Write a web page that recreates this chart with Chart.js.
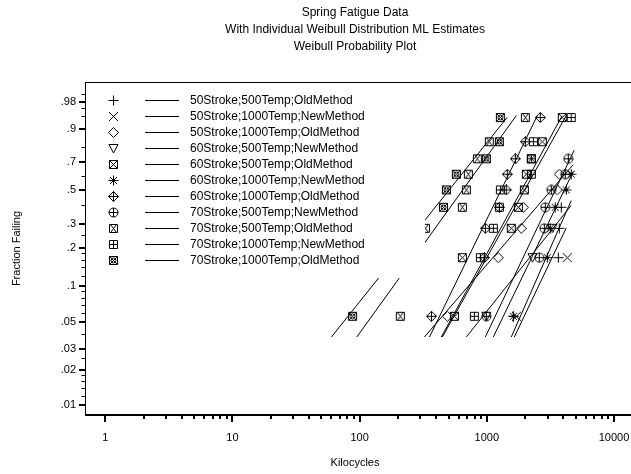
<!DOCTYPE html>
<html lang="en">
<head>
<meta charset="UTF-8">
<title>Spring Fatigue Data</title>
<script src="https://cdn.jsdelivr.net/npm/chart.js@4.4.0/dist/chart.umd.min.js"></script>
<style>
  html, body { margin: 0; padding: 0; background: #fff; }
  #chart { display: block; }
</style>
</head>
<body>
<canvas id="chart" width="631" height="474"></canvas>
<script>
// ordered failure times (kilocycles) for each test condition
const s50_500_old  = [1616, 3650, 3711, 3848];
const s50_1000_new = [1706, 4291];
const s50_1000_old = [490, 1231, 1867, 1937, 3578, 3711];
const s60_500_new  = [991, 2281, 3269];
const s60_500_old  = [556, 642, 1557, 1770, 1972, 2046, 2240, 2729, 3918];
const s60_1000_new = [1616, 2986, 3155, 3450, 4214, 4607];
const s60_1000_old = [367, 956, 973, 1254, 1423, 1449, 1675, 2009, 2633];
const s70_500_new  = [991, 2585, 2829, 2880, 3211, 4139, 4368];
const s70_500_old  = [209, 270, 329, 642, 690, 716, 842, 1046, 2009];
const s70_1000_new = [798, 889, 1125, 1254, 1277, 2240, 2240, 2323, 4607];
const s70_1000_old = [88, 188, 295, 456, 481, 576, 991, 1254, 1277];

// plotting positions (fraction failing) of the 1st, 2nd, ... failure
const plotPos = [0.056, 0.167, 0.278, 0.389, 0.5, 0.611, 0.722, 0.833, 0.944];

const seriesNames = [
  '50Stroke;500Temp;OldMethod', '50Stroke;1000Temp;NewMethod', '50Stroke;1000Temp;OldMethod',
  '60Stroke;500Temp;NewMethod', '60Stroke;500Temp;OldMethod', '60Stroke;1000Temp;NewMethod',
  '60Stroke;1000Temp;OldMethod', '70Stroke;500Temp;NewMethod', '70Stroke;500Temp;OldMethod',
  '70Stroke;1000Temp;NewMethod', '70Stroke;1000Temp;OldMethod'
];
const failTimes = [s50_500_old, s50_1000_new, s50_1000_old, s60_500_new, s60_500_old, s60_1000_new,
                   s60_1000_old, s70_500_new, s70_500_old, s70_1000_new, s70_1000_old];

// ML fit lines: start (kilocycles at lineLowP) and end (kilocycles, fraction)
const lineLowP   = 0.0376;
const lineLowKc  = [1557, 1645, 323, 690, 439, 1125, 354, 973, 95, 447, 60];
const lineHighKc = [4607, 4214, 4775, 4607, 3918, 4775, 2497, 4865, 1706, 4214, 1449];
const lineHighP  = [0.43, 0.28, 0.68, 0.40, 0.95, 0.63, 0.95, 0.78, 0.95, 0.95, 0.945];

// axis ticks
const xMajor = [1, 10, 100, 1000, 10000];
const xLabels = ['1', '10', '100', '1000', '10000'];
const yMajor = [0.01, 0.02, 0.03, 0.05, 0.1, 0.2, 0.3, 0.5, 0.7, 0.9, 0.98];
const yLabels = ['.01', '.02', '.03', '.05', '.1', '.2', '.3', '.5', '.7', '.9', '.98'];
const yMinor = [0.012, 0.014, 0.016, 0.018, 0.025, 0.04, 0.06, 0.07, 0.08, 0.09,
                0.12, 0.14, 0.16, 0.18, 0.25, 0.4, 0.6, 0.8, 0.95, 0.97, 0.99];

const FONT = "'Liberation Sans', Arial, sans-serif";

// weibull probability scale
function wb(p) { return Math.log(-Math.log(1 - p)); }

// marker glyphs
function glyph(draw) {
  const c = document.createElement('canvas');
  c.width = 11; c.height = 11;
  const g = c.getContext('2d');
  g.strokeStyle = '#000';
  g.lineWidth = 1;
  g.translate(5.5, 5.5);
  g.beginPath();
  draw(g);
  g.stroke();
  return c;
}
const box = g => g.rect(-4, -4, 8, 8);
const xx = g => { g.moveTo(-4, -4); g.lineTo(4, 4); g.moveTo(4, -4); g.lineTo(-4, 4); };
const pp = (g, r) => { g.moveTo(-r, 0); g.lineTo(r, 0); g.moveTo(0, -r); g.lineTo(0, r); };
const dia = g => { g.moveTo(0, -5); g.lineTo(5, 0); g.lineTo(0, 5); g.lineTo(-5, 0); g.closePath(); };
const markers = [
  glyph(g => pp(g, 5)),
  glyph(g => { g.moveTo(-4.5, -4.5); g.lineTo(4.5, 4.5); g.moveTo(4.5, -4.5); g.lineTo(-4.5, 4.5); }),
  glyph(dia),
  glyph(g => { g.moveTo(-4.5, -4); g.lineTo(4.5, -4); g.lineTo(0, 4.5); g.closePath(); }),
  glyph(g => { box(g); xx(g); }),
  glyph(g => { pp(g, 5); g.moveTo(-3.5, -3.5); g.lineTo(3.5, 3.5); g.moveTo(3.5, -3.5); g.lineTo(-3.5, 3.5); }),
  glyph(g => { dia(g); pp(g, 5); }),
  glyph(g => { g.moveTo(4.5, 0); g.arc(0, 0, 4.5, 0, Math.PI * 2); pp(g, 4.5); }),
  glyph(g => { g.moveTo(-4, -4); g.lineTo(4, -4); g.moveTo(-4, 4); g.lineTo(4, 4);
               g.moveTo(-3, -4); g.lineTo(3, 4); g.moveTo(3, -4); g.lineTo(-3, 4);
               g.moveTo(-4, -4); g.lineTo(-4, 4); g.moveTo(4, -4); g.lineTo(4, 4); }),
  glyph(g => { box(g); pp(g, 4); }),
  glyph(g => { box(g); xx(g); g.moveTo(2.5, 0); g.arc(0, 0, 2.5, 0, Math.PI * 2); })
];

const datasets = [];
failTimes.forEach((times, i) => {
  datasets.push({
    label: seriesNames[i],
    data: times.map((t, k) => ({ x: t, y: wb(plotPos[k]) })),
    pointStyle: markers[i],
    pointRadius: 5,
    showLine: false
  });
  datasets.push({
    label: seriesNames[i] + ' fit',
    data: [{ x: lineLowKc[i], y: wb(lineLowP) }, { x: lineHighKc[i], y: wb(lineHighP[i]) }],
    showLine: true,
    borderColor: '#000',
    borderWidth: 1,
    pointRadius: 0
  });
});

// tick marks, top frame line and axis lines
const frame = {
  id: 'frame',
  afterDraw(chart) {
    const { ctx, chartArea: a, scales: { x, y } } = chart;
    ctx.save();
    ctx.strokeStyle = '#000';
    ctx.lineWidth = 1;
    ctx.beginPath();
    ctx.moveTo(a.left, Math.round(a.top) + 0.5);
    ctx.lineTo(chart.width, Math.round(a.top) + 0.5);
    ctx.moveTo(Math.round(a.left) + 0.5, a.top);
    ctx.lineTo(Math.round(a.left) + 0.5, a.bottom);
    ctx.stroke();
    ctx.lineWidth = 2;
    ctx.beginPath();
    ctx.moveTo(a.left, Math.round(a.bottom));
    ctx.lineTo(chart.width, Math.round(a.bottom));
    xMajor.forEach(v => {
      const px = Math.round(x.getPixelForValue(v));
      ctx.moveTo(px, a.bottom); ctx.lineTo(px, a.bottom + 7);
      if (v < 10000) {
        for (let m = 2; m < 10; m++) {
          const qx = Math.round(x.getPixelForValue(v * m));
          ctx.moveTo(qx, a.bottom); ctx.lineTo(qx, a.bottom + 4);
        }
      }
    });
    yMajor.forEach(p => {
      const py = Math.round(y.getPixelForValue(wb(p)));
      ctx.moveTo(a.left - 6, py); ctx.lineTo(a.left, py);
    });
    ctx.stroke();
    ctx.lineWidth = 1;
    ctx.beginPath();
    yMinor.forEach(p => {
      const py = Math.round(y.getPixelForValue(wb(p))) + 0.5;
      ctx.moveTo(a.left - 3.5, py); ctx.lineTo(a.left, py);
    });
    ctx.stroke();
    ctx.restore();
  }
};

// legend box drawn inside the plot, over the data
const boxLegend = {
  id: 'boxLegend',
  afterDatasetsDraw(chart) {
    const { ctx, chartArea: a } = chart;
    ctx.save();
    ctx.fillStyle = '#fff';
    ctx.fillRect(a.left + 1, a.top + 1, 339, 195);
    ctx.strokeStyle = '#000';
    ctx.lineWidth = 1;
    ctx.fillStyle = '#000';
    ctx.font = '12px ' + FONT;
    ctx.textBaseline = 'middle';
    seriesNames.forEach((name, i) => {
      const ry = Math.round(a.top + 18 + 16 * i);
      ctx.drawImage(markers[i], Math.round(a.left + 28) - 5, ry - 5);
      ctx.beginPath();
      ctx.moveTo(a.left + 60, ry + 0.5);
      ctx.lineTo(a.left + 94, ry + 0.5);
      ctx.stroke();
      ctx.fillText(name, a.left + 105, ry + 1);
    });
    ctx.restore();
  }
};

new Chart(document.getElementById('chart'), {
  type: 'scatter',
  data: { datasets },
  options: {
    responsive: false,
    animation: false,
    events: [],
    layout: { padding: 0 },
    plugins: {
      legend: { display: false },
      tooltip: { enabled: false },
      title: {
        display: true,
        fullSize: false,
        text: ['Spring Fatigue Data', 'With Individual Weibull Distribution ML Estimates', 'Weibull Probability Plot'],
        color: '#000',
        font: { family: FONT, size: 12, weight: 'normal', lineHeight: '17px' },
        padding: { top: 4, bottom: 27 }
      }
    },
    scales: {
      x: {
        type: 'logarithmic',
        min: 0.693,
        max: 12200,
        afterFit: s => { s.height = 59; s.paddingLeft = 0; s.paddingRight = 0; },
        afterBuildTicks: s => { s.ticks = xMajor.map(v => ({ value: v })); },
        grid: { display: false, drawTicks: false },
        border: { display: false },
        ticks: {
          callback: (v, i) => xLabels[i],
          autoSkip: false,
          maxRotation: 0,
          padding: 16,
          color: '#000',
          font: { family: FONT, size: 11 }
        },
        title: {
          display: true,
          text: 'Kilocycles',
          color: '#000',
          font: { family: FONT, size: 11 },
          padding: { top: 4, bottom: 4 }
        }
      },
      y: {
        type: 'linear',
        min: -4.797,
        max: 1.758,
        afterFit: s => { s.width = 85; s.paddingTop = 0; s.paddingBottom = 0; },
        afterBuildTicks: s => { s.ticks = yMajor.map(p => ({ value: wb(p) })); },
        grid: { display: false, drawTicks: false },
        border: { display: false },
        ticks: {
          callback: (v, i) => yLabels[i],
          autoSkip: false,
          padding: 9,
          color: '#000',
          font: { family: FONT, size: 11 }
        },
        title: {
          display: true,
          text: 'Fraction Failing',
          color: '#000',
          font: { family: FONT, size: 11 },
          padding: { top: 10 }
        }
      }
    }
  },
  plugins: [frame, boxLegend]
});
</script>
</body>
</html>
